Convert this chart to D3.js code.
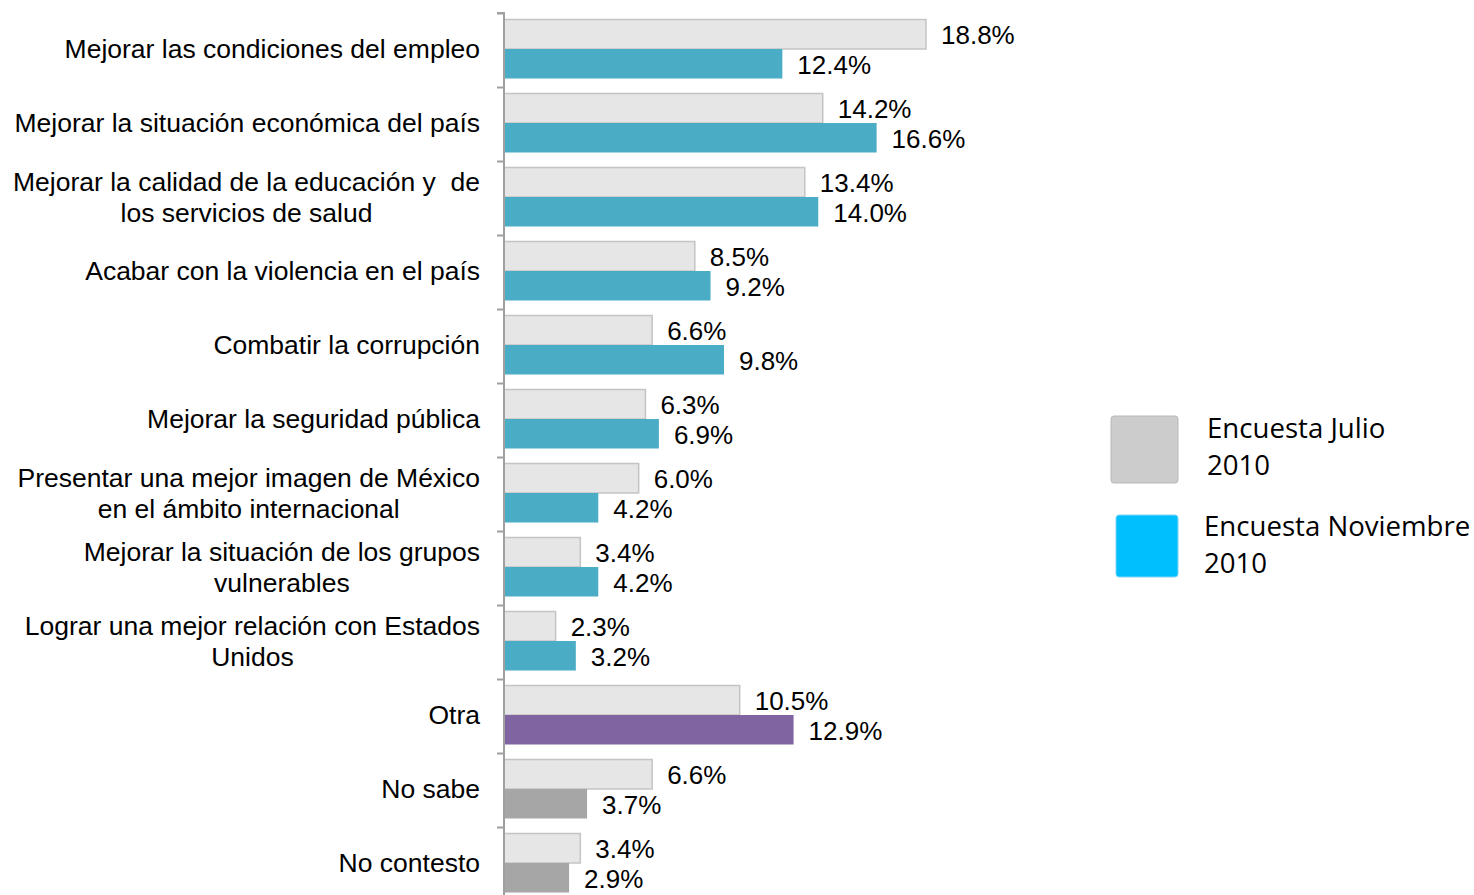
<!DOCTYPE html>
<html>
<head>
<meta charset="utf-8">
<script src="https://cdn.jsdelivr.net/npm/d3@7"></script>
<style>
  html, body { margin: 0; padding: 0; background: #fff; }
  svg { display: block; }
  text { white-space: pre; }
</style>
</head>
<body>
<svg id="chart" width="1474" height="895"></svg>
<script>
// Category labels (multi-line entries split with "\n")
const categories = [
  "Mejorar las condiciones del empleo",
  "Mejorar la situación económica del país",
  "Mejorar la calidad de la educación y  de\nlos servicios de salud",
  "Acabar con la violencia en el país",
  "Combatir la corrupción",
  "Mejorar la seguridad pública",
  "Presentar una mejor imagen de México\nen el ámbito internacional",
  "Mejorar la situación de los grupos\nvulnerables",
  "Lograr una mejor relación con Estados\nUnidos",
  "Otra",
  "No sabe",
  "No contesto"
];
const julio = [18.8, 14.2, 13.4, 8.5, 6.6, 6.3, 6.0, 3.4, 2.3, 10.5, 6.6, 3.4];
const noviembre = [12.4, 16.6, 14.0, 9.2, 9.8, 6.9, 4.2, 4.2, 3.2, 12.9, 3.7, 2.9];
const seriesNames = ["Encuesta Julio\n2010", "Encuesta Noviembre\n2010"];

const svg = d3.select("#chart");
const axisX = 504;
const plotTop = 13, band = 74;

const y = d3.scaleBand()
  .domain(d3.range(categories.length))
  .range([plotTop, plotTop + band * categories.length])
  .paddingInner(0).paddingOuter(0);

const x = d3.scaleLinear().domain([0, 18.8]).range([axisX, 926]);

const barH = 29.5;
const novColor = i => i === 9 ? "#8064a2" : (i >= 10 ? "#a6a6a6" : "#4bacc6");

const g = svg.append("g");

// July bars (light with thin border)
g.selectAll("rect.jul").data(julio).join("rect")
  .attr("class", "jul")
  .attr("x", x(0))
  .attr("y", (d, i) => y(i) + 6.5)
  .attr("width", d => x(d) - x(0))
  .attr("height", barH)
  .attr("fill", "#e6e6e6")
  .attr("stroke", "#c4c4c4")
  .attr("stroke-width", 1.5);

// November bars
g.selectAll("rect.nov").data(noviembre).join("rect")
  .attr("class", "nov")
  .attr("x", x(0))
  .attr("y", (d, i) => y(i) + 6.5 + barH)
  .attr("width", d => x(d) - x(0))
  .attr("height", barH)
  .attr("fill", (d, i) => novColor(i));

// Value labels
const fmt = d => d.toFixed(1) + "%";
const valFont = "'Liberation Sans', Arial, sans-serif";
const valSize = 26;
g.selectAll("text.jv").data(julio).join("text")
  .attr("x", d => x(d) + 15)
  .attr("y", (d, i) => y(i) + 6.5 + barH / 2 + 1)
  .attr("dominant-baseline", "central")
  .attr("font-family", valFont).attr("font-size", valSize).attr("fill", "#000")
  .text(fmt);
g.selectAll("text.nv").data(noviembre).join("text")
  .attr("x", d => x(d) + 15)
  .attr("y", (d, i) => y(i) + 6.5 + barH * 1.5 + 1)
  .attr("dominant-baseline", "central")
  .attr("font-family", valFont).attr("font-size", valSize).attr("fill", "#000")
  .text(fmt);

// Vertical category axis with ticks at band boundaries
const axis = d3.axisLeft(
  d3.scaleLinear().domain([0, categories.length]).range([plotTop, plotTop + band * categories.length])
).ticks(categories.length).tickSize(7).tickFormat("");
const ax = svg.append("g").attr("transform", `translate(${axisX},0)`).call(axis);
ax.select(".domain").attr("stroke", "#a0a0a0").attr("stroke-width", 2)
  .attr("d", `M-7,${plotTop}H0V${plotTop + band * categories.length}`);
ax.selectAll(".tick line").attr("stroke", "#a0a0a0").attr("stroke-width", 2);

// Category labels, right-aligned
const lineH = 31;
categories.forEach((c, i) => {
  const lines = c.split("\n");
  const cy = y(i) + band / 2 - 1;
  const t = svg.append("text")
    .attr("text-anchor", "end")
    .attr("font-family", valFont).attr("font-size", 26.5).attr("fill", "#000");
  lines.forEach((ln, j) => {
    t.append("tspan")
      .attr("x", 480)
      .attr("y", cy + (j - (lines.length - 1) / 2) * lineH)
      .attr("dominant-baseline", "central")
      .text(ln);
  });
  if (lines.length > 1) {
    // two-line labels: lines centered on each other, block right-aligned at 480
    const widths = [];
    t.selectAll("tspan").each(function () { widths.push(this.getComputedTextLength()); });
    const maxW = d3.max(widths);
    t.attr("text-anchor", "middle");
    t.selectAll("tspan").attr("x", 480 - maxW / 2);
  }
});

// Legend
const legend = svg.append("g");
const legendItems = [
  { name: seriesNames[0], fill: "#cccccc", stroke: "#b8b8b8", sx: 1111, sy: 416, s: 67, tx: 1207, ty: 427 },
  { name: seriesNames[1], fill: "#00bfff", stroke: "#7fd6f5", sx: 1116, sy: 515, s: 62, tx: 1204, ty: 525 }
];
legendItems.forEach(it => {
  legend.append("rect")
    .attr("x", it.sx).attr("y", it.sy).attr("width", it.s).attr("height", it.s)
    .attr("rx", 3).attr("fill", it.fill).attr("stroke", it.stroke).attr("stroke-width", 1);
  const t = legend.append("text")
    .attr("font-family", "'Open Sans', Lato, sans-serif").attr("font-size", 27.6).attr("fill", "#000");
  it.name.split("\n").forEach((ln, j) => {
    t.append("tspan").attr("x", it.tx).attr("y", it.ty + j * 37)
      .attr("dominant-baseline", "central").text(ln);
  });
});
</script>
</body>
</html>
